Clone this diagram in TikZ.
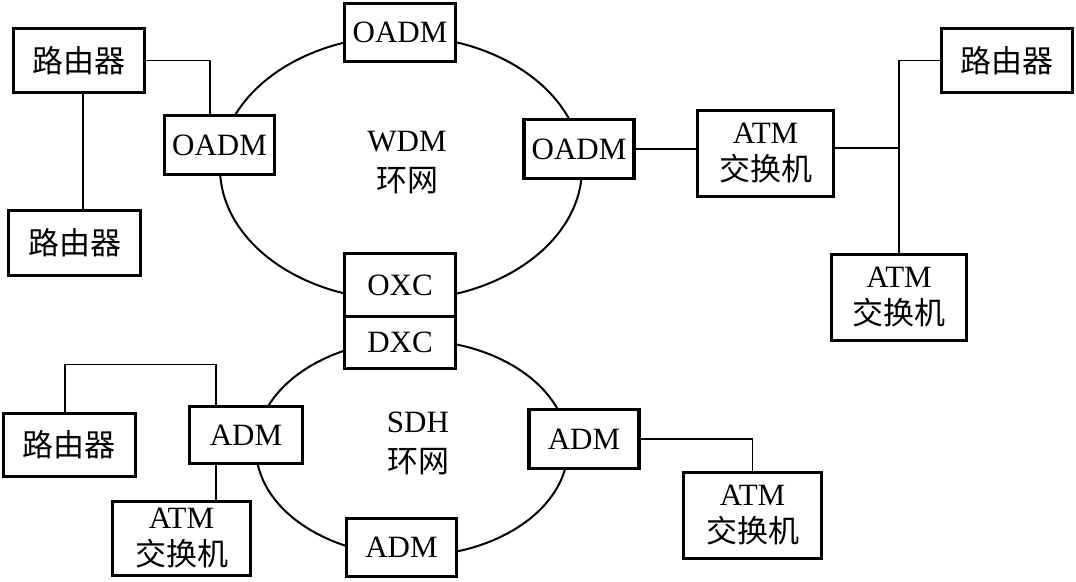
\documentclass[tikz,border=0pt]{standalone}
\usepackage{fontspec}
\setmainfont{Liberation Serif}
\newfontfamily\cjk{Noto Sans CJK SC}
\usetikzlibrary{positioning}

\begin{document}
\begin{tikzpicture}[x=1pt,y=-1pt,
    n/.style={draw,line width=3.8pt,fill=white,inner sep=0pt,outer sep=0pt,align=center,font=\fontsize{31}{37}\selectfont},
    rt/.style={n,minimum width=131pt,minimum height=64pt},
    atm/.style={n,minimum width=136pt,minimum height=86pt},
    mux/.style={n,minimum width=110pt,minimum height=59pt},
    l/.style={line width=1.9pt},
    ring/.style={line width=2pt},
    lab/.style={align=center,font=\fontsize{31}{40}\selectfont}]
  \useasboundingbox (0,0) rectangle (1076,581);
  % rings
  \draw[ring] (401,168) ellipse [x radius=181pt,y radius=132pt];
  \draw[ring] (412,448) ellipse [x radius=156pt,y radius=108pt];
  \node[lab] (wdm) at (407,163) {WDM\\{\cjk 环网}};
  \node[lab] (sdh) at (418,443) {SDH\\{\cjk 环网}};
  % WDM ring
  \node[mux,minimum width=111pt,minimum height=58pt] (oadmT) at (400,32.5) {OADM};
  \node[mux] (oadmL) at (219.5,145) {OADM};
  \node[mux] (oadmR) at (579,149) {OADM};
  \node[mux,minimum width=111pt,minimum height=63pt] (oxc) at (400,285) {OXC};
  \node[mux,minimum width=111pt,minimum height=52pt,below=0pt of oxc] (dxc) {DXC};
  \node[rt] (rtTL) at (79,60.5) {\cjk 路由器};
  \node[rt,minimum width=132pt,minimum height=65pt] (rtL) at (74.5,243) {\cjk 路由器};
  \node[atm] (atmR) at (765.5,153.5) {ATM\\{\cjk 交换机}};
  \node[rt] (rtR) at (1007,60.5) {\cjk 路由器};
  \node[atm,minimum width=135pt] (atmRL) at (899,297.5) {ATM\\{\cjk 交换机}};
  \coordinate (j) at (899,148);
  % SDH ring
  \node[mux,minimum width=113pt,minimum height=57pt] (admL) at (246,435) {ADM};
  \node[mux,minimum height=58pt] (admB) at (401.5,547.5) {ADM};
  \node[mux] (admR) at (584,439) {ADM};
  \node[rt,minimum width=132pt,minimum height=63pt] (rtBL) at (69.5,445) {\cjk 路由器};
  \node[atm,minimum width=138pt,minimum height=74pt] (atmBL) at (181.5,538.5) {ATM\\{\cjk 交换机}};
  \node[atm,minimum width=138pt] (atmBR) at (752.5,515.5) {ATM\\{\cjk 交换机}};
  % links
  \draw[l] (rtTL.east) -| ([xshift=-9.5pt]oadmL.north);
  \draw[l] ([xshift=4pt]rtTL.south) -- ([xshift=4pt]rtTL.south |- rtL.north);
  \draw[l] (oadmR.east) -- (oadmR.east -| atmR.west);
  \draw[l] (atmR.east |- j) -- (j);
  \draw[l] (rtR.west) -| (atmRL.north);
  \draw[l] ([xshift=-4.5pt]rtBL.north) -- ++(0,-49) -| ([xshift=-30pt]admL.north);
  \draw[l] ([xshift=-30pt]admL.south) -- ([xshift=-30pt]admL.south |- atmBL.north);
  \draw[l] (admR.east) -| (atmBR.north);
\end{tikzpicture}
\end{document}
